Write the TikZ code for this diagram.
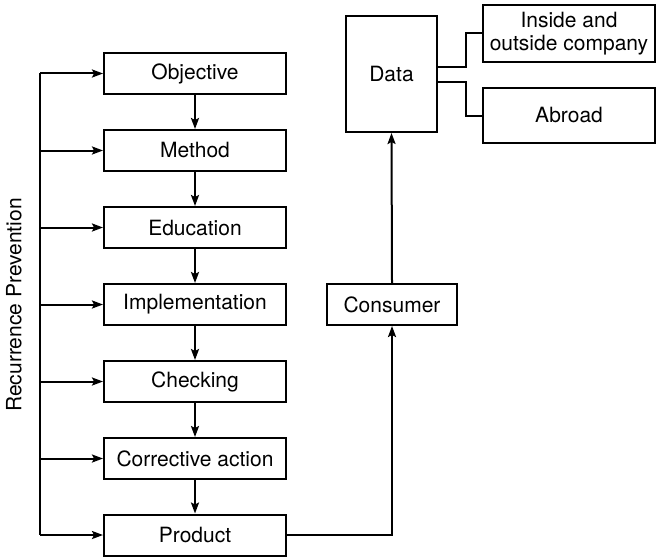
\documentclass[tikz,border=0pt]{standalone}
\usepackage{fontspec}
\setmainfont{TeX Gyre Heros}
\usetikzlibrary{arrows.meta}
\begin{document}
\begin{tikzpicture}[x=0.5pt,y=-0.5pt,
  font=\fontsize{10.5}{12.6}\selectfont,
  box/.style={draw,line width=1pt,minimum width=91pt,minimum height=20.5pt,inner sep=0pt,align=center},
  ln/.style={line width=1pt},
  arr/.style={ln,-{Stealth[length=5.5pt,width=4pt,inset=1pt]}}]
\useasboundingbox (0,0) rectangle (656,556);
% left column
\node[box] (obj) at (195,73.5) {Objective};
\node[box] (met) at (195,150.5) {Method};
\node[box] (edu) at (195,227.5) {Education};
\node[box] (imp) at (195,304.5) {Implementation};
\node[box] (chk) at (195,381.5) {Checking};
\node[box] (cor) at (195,458.5) {Corrective action};
\node[box] (prd) at (195,535) {Product};
% right column
\node[box,minimum width=65pt] (con) at (392,304.5) {Consumer};
\node[box,minimum width=45.5pt,minimum height=58pt] (dat) at (391.5,74) {Data};
\node[box,minimum width=86pt,minimum height=28.5pt] (ins) at (569,33.5) {Inside and\\[-1pt]outside company};
\node[box,minimum width=86pt,minimum height=27.5pt] (abr) at (569,115.5) {Abroad};
% label
\node[rotate=90] (lab) at (14,305) {Recurrence Prevention};
% vertical flow
\draw[arr] (obj) -- (met);
\draw[arr] (met) -- (edu);
\draw[arr] (edu) -- (imp);
\draw[arr] (imp) -- (chk);
\draw[arr] (chk) -- (cor);
\draw[arr] (cor) -- (prd);
% bus
\coordinate (bt) at (40,73.5);
\coordinate (bb) at (40,535);
\draw[ln] (bt) -- (bb);
\foreach \n in {obj,met,edu,imp,chk,cor,prd}
  \draw[arr] (bt |- \n.west) -- (\n.west);
% right connectors
\draw[arr] (prd.east) -| (con.south);
\draw[arr] (con.north) -- (dat.south);
\coordinate (j) at (466,0);
\draw[ln] ([yshift=3.5pt]dat.east) -| (j |- ins.west) -- (ins.west);
\draw[ln] ([yshift=-4pt]dat.east) -| (j |- abr.west) -- (abr.west);
\end{tikzpicture}
\end{document}
